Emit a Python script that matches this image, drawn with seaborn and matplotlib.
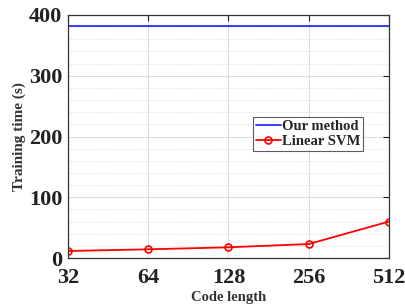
import numpy as np
import pandas as pd
import matplotlib
matplotlib.use("Agg")
import matplotlib.pyplot as plt
import seaborn as sns
from matplotlib.ticker import MultipleLocator

code_lengths = ["32", "64", "128", "256", "512"]
our_method = [382, 382, 382, 382, 382]
linear_svm = [11.5, 14.3, 17.6, 23, 60]

df = pd.DataFrame({
    "pos": list(range(len(code_lengths))) * 2,
    "time": our_method + linear_svm,
    "method": ["Our method"] * 5 + ["Linear SVM"] * 5,
})

sns.set_style("white")
plt.rcParams["font.family"] = ["Liberation Serif", "DejaVu Serif"]
plt.rcParams["font.weight"] = "bold"

fig = plt.figure(figsize=(4.06, 3.08), dpi=100)
ax = fig.add_axes([68 / 406, 50 / 308, 321 / 406, 243 / 308])

sns.lineplot(data=df[df.method == "Our method"], x="pos", y="time", color="#2a2aff",
             lw=1.3, ax=ax, label="Our method")
sns.lineplot(data=df[df.method == "Linear SVM"], x="pos", y="time", color="red",
             lw=1.3, marker="o", markersize=5, markerfacecolor="none",
             markeredgecolor="red", markeredgewidth=1.2, ax=ax, label="Linear SVM")

ax.set_xlim(0, 4)
ax.set_ylim(0, 400)
ax.set_xticks(range(len(code_lengths)))
ax.set_xticklabels(code_lengths)
ax.yaxis.set_major_locator(MultipleLocator(100))
ax.yaxis.set_minor_locator(MultipleLocator(20))

ax.grid(True, which="major", color="#dddddd", lw=0.8)
ax.grid(True, which="minor", axis="y", color="#cccccc", lw=0.6, ls=(0, (1, 2)))
ax.set_axisbelow(True)

for s in ax.spines.values():
    s.set_color("#333333")
    s.set_linewidth(0.9)
    s.set_visible(True)

ax.tick_params(axis="both", which="major", direction="in", length=4, width=0.8,
               top=True, right=True, labelsize=16, colors="#222222")
ax.tick_params(axis="x", which="major", pad=7)
ax.tick_params(axis="y", which="major", pad=4)
ax.tick_params(axis="y", which="minor", length=0)
for lbl in ax.get_xticklabels() + ax.get_yticklabels():
    lbl.set_fontweight("bold")

ax.set_xlabel("Code length", fontsize=10.5, fontweight="bold", labelpad=2, color="#333333")
ax.set_ylabel("Training time (s)", fontsize=11, fontweight="bold", labelpad=2, color="#333333")

leg = ax.legend(loc="upper left", bbox_to_anchor=(0.576, 0.58), fontsize=10.5,
                frameon=True, fancybox=False, edgecolor="#333333",
                handlelength=1.7, handletextpad=0.1, borderpad=0.2,
                labelspacing=0.1, borderaxespad=0)
leg.get_frame().set_linewidth(0.8)
for t in leg.get_texts():
    t.set_fontweight("bold")

fig.savefig("out.png", dpi=100)
